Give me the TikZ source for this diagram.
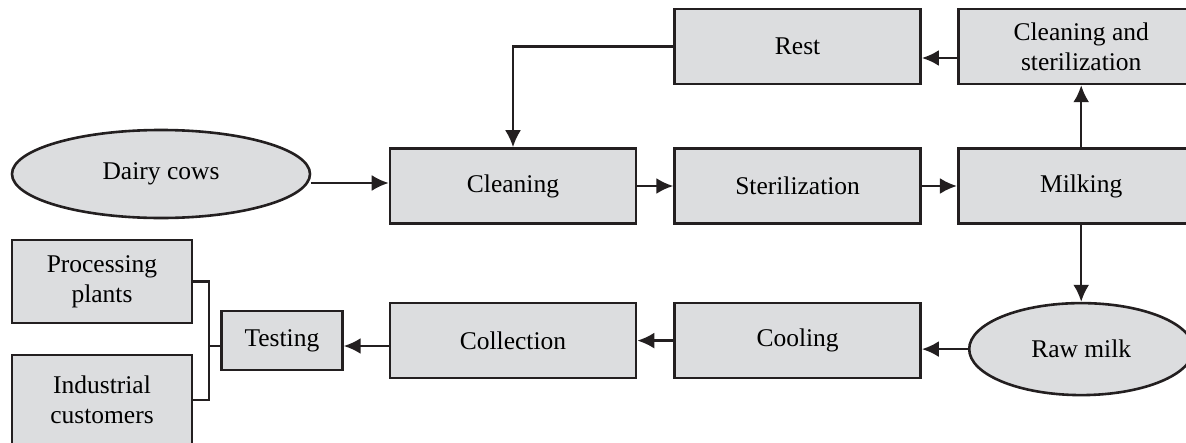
\documentclass[tikz,border=0pt]{standalone}
\usepackage{fontspec}
\setmainfont{Liberation Serif}
\usepackage{tikz}
\usetikzlibrary{positioning,arrows.meta,shapes.geometric}
\definecolor{boxfill}{HTML}{DCDDDF}
\definecolor{boxline}{HTML}{231F20}

\begin{document}
\begin{tikzpicture}[
      x=1pt, y=-1pt,
      font=\fontsize{25.5}{30}\selectfont,
      box/.style={draw=boxline,fill=boxfill,line width=2.6pt,align=center,minimum width=246,minimum height=75,inner sep=2pt},
      ell/.style={ellipse,draw=boxline,fill=boxfill,line width=2.6pt,align=center,inner sep=0pt},
      arr/.style={-{Latex[length=17pt,width=16pt]},line width=2.4pt,draw=boxline},
      line/.style={line width=2.4pt,draw=boxline}
    ]
    \useasboundingbox (0,0) rectangle (1186,442);

    \node[ell, minimum width=298, minimum height=88] (dairy) at (161,174) {Dairy cows};
    \node[box] (cleaning) at (513,186) {Cleaning};
    \node[box, right=36pt of cleaning] (steril) {Sterilization};
    \node[box, right=35pt of steril] (milking) {Milking};
    \node[box, above=62pt of steril] (rest) {Rest};
    \node[box, above=62pt of milking] (cleanster) {Cleaning and\\sterilization};
    \node[ell, below=77pt of milking, minimum width=224, minimum height=92] (rawmilk) {Raw milk};
    \node[box, below=77pt of steril] (cooling) {Cooling};
    \node[box, below=77pt of cleaning] (collection) {Collection};
    \node[box, left=45pt of collection, minimum width=121, minimum height=59] (testing) {Testing};
    \node[box, minimum width=180, minimum height=83] (plants) at (102,281.5) {Processing\\plants};
    \node[box, minimum width=180, minimum height=90] (customers) at (102,400) {Industrial\\customers};
    \coordinate (join) at (209,346);

    \draw[arr] (dairy.east |- 0,183) -- (cleaning.west |- 0,183);
    \draw[arr] (cleaning) -- (steril);
    \draw[arr] (steril) -- (milking);
    \draw[arr] (milking) -- (cleanster);
    \draw[arr] (cleanster.west |- 0,58) -- (rest.east |- 0,58);
    \draw[arr] (rest.west) -| (cleaning.north);
    \draw[arr] (milking) -- (rawmilk);
    \draw[arr] (rawmilk.west) -- (rawmilk.west -| cooling.east);
    \draw[arr] (cooling) -- (collection);
    \draw[arr] (collection.west |- 0,346) -- (testing.east |- 0,346);
    \draw[line] (plants.east) -| (join) |- (customers.east);
    \draw[line] (testing.west |- join) -- (join);
  \end{tikzpicture}
\end{document}
